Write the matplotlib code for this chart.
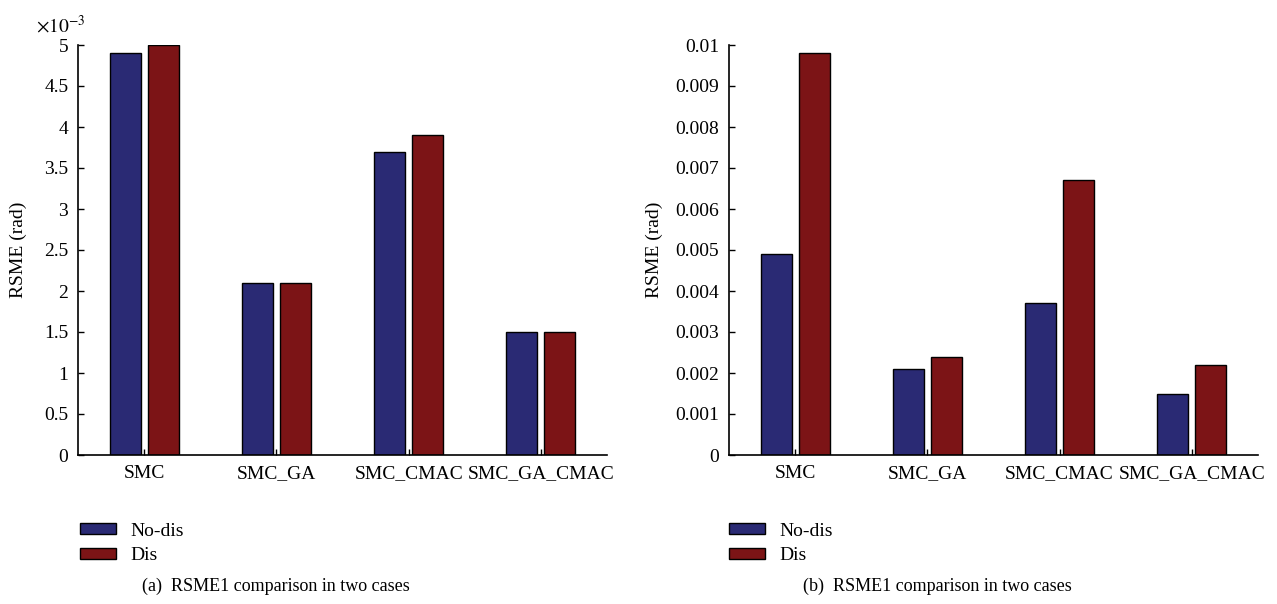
import numpy as np
import matplotlib
matplotlib.use("Agg")
import matplotlib.pyplot as plt
from matplotlib.ticker import FuncFormatter, MultipleLocator
from matplotlib.patches import Patch

plt.rcParams['font.family'] = ['Liberation Serif', 'DejaVu Serif']
plt.rcParams['font.size'] = 14
plt.rcParams['mathtext.fontset'] = 'stix'

methods = ["SMC", "SMC_GA", "SMC_CMAC", "SMC_GA_CMAC"]
series_names = ["No-dis", "Dis"]

# panel (a), values in rad
a_nodis = [0.0049, 0.0021, 0.0037, 0.0015]
a_dis = [0.0050, 0.0021, 0.0039, 0.0015]

# panel (b)
b_nodis = [0.0049, 0.0021, 0.0037, 0.0015]
b_dis = [0.0098, 0.0024, 0.0067, 0.0022]

captions = ["(a)  RSME1 comparison in two cases", "(b)  RSME1 comparison in two cases"]

BLUE = '#2a2a74'
RED = '#7c1416'


def draw_panel(ax, nodis, dis, ymax, ystep, scale_label):
    x = np.arange(1, len(methods) + 1)
    w = 0.235
    off = 0.144
    ax.bar(x - off, nodis, w, color=BLUE, edgecolor='black', linewidth=1.0)
    ax.bar(x + off, dis, w, color=RED, edgecolor='black', linewidth=1.0)
    ax.set_xlim(0.5, 4.5)
    ax.set_ylim(0, ymax)
    ax.set_xticks(x)
    ax.set_xticklabels(methods)
    ax.yaxis.set_major_locator(MultipleLocator(ystep))
    if scale_label:
        ax.yaxis.set_major_formatter(FuncFormatter(lambda v, p: f"{v * 1e3:g}"))
        ax.text(-0.08, 1.02, r"$\times10^{-3}$", transform=ax.transAxes,
                ha='left', va='bottom', fontsize=14)
    else:
        ax.yaxis.set_major_formatter(FuncFormatter(lambda v, p: f"{v:g}"))
    for s in ['top', 'right']:
        ax.spines[s].set_visible(False)
    for s in ['left', 'bottom']:
        ax.spines[s].set_linewidth(1.2)
    ax.tick_params(direction='in', length=4, width=1, labelsize=14)
    ax.tick_params(axis='x', pad=7)
    ax.tick_params(axis='y', pad=7)
    ax.set_ylabel("RSME (rad)", fontsize=14)


fig = plt.figure(figsize=(12.77, 6.04), dpi=100)
ax1 = fig.add_axes([78 / 1277, 1 - 455 / 604, 529 / 1277, 410 / 604])
ax2 = fig.add_axes([729 / 1277, 1 - 455 / 604, 529 / 1277, 410 / 604])

draw_panel(ax1, a_nodis, a_dis, 0.005, 0.0005, True)
draw_panel(ax2, b_nodis, b_dis, 0.01, 0.001, False)
ax1.yaxis.set_label_coords(-0.096, 0.5)
ax2.yaxis.set_label_coords(-0.125, 0.5)

handles = [Patch(facecolor=BLUE, edgecolor='black', label=series_names[0]),
           Patch(facecolor=RED, edgecolor='black', label=series_names[1])]
for lx in [62 / 1277, 711 / 1277]:
    fig.legend(handles=handles, loc='upper left', bbox_to_anchor=(lx, 1 - 505 / 604),
               frameon=False, handlelength=1.9, handleheight=0.5,
               handletextpad=0.7, labelspacing=0.4, fontsize=14)

fig.text(276 / 1277, 1 - 586 / 604, captions[0], ha='center', va='center', fontsize=13)
fig.text(937 / 1277, 1 - 586 / 604, captions[1], ha='center', va='center', fontsize=13)

fig.savefig("out.png", dpi=100)
